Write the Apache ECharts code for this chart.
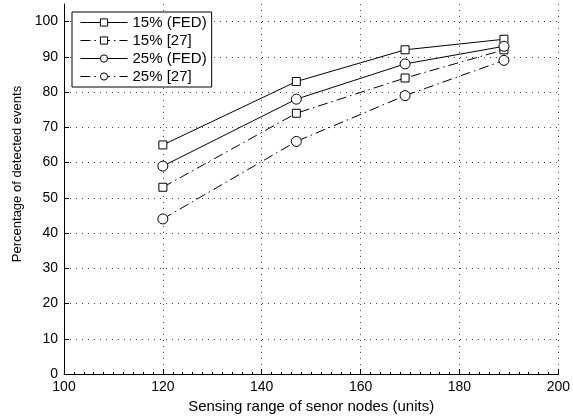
<!DOCTYPE html>
<html>
<head>
<meta charset="utf-8">
<script src="https://cdn.jsdelivr.net/npm/echarts@6/dist/echarts.min.js"></script>
<style>
  html, body { margin: 0; padding: 0; background: #fff; }
  #chart { width: 573px; height: 419px; }
</style>
</head>
<body>
<div id="chart"></div>
<script>
// Sensing range (x) and detection percentage per configuration
const sensingRange = [120, 147, 169, 189];
const fed15 = [65, 83, 92, 95];
const ref15 = [53, 74, 84, 92];
const fed25 = [59, 78, 88, 93];
const ref25 = [44, 66, 79, 89];

const seriesNames = ['15% (FED)', '15% [27]', '25% (FED)', '25% [27]'];
const xTicks = [100, 120, 140, 160, 180, 200];
const yTicks = [0, 10, 20, 30, 40, 50, 60, 70, 80, 90, 100];

const FONT = '"Liberation Sans", Arial, Helvetica, sans-serif';
const DASH_DOT = [10, 4, 1.5, 4];
const GRID_DOTS = [1, 5];

function pairs(xs, ys) {
  return xs.map((x, i) => [x, ys[i]]);
}

function makeSeries(name, values, symbol, size, dashed) {
  return {
    name: name,
    type: 'line',
    data: pairs(sensingRange, values),
    symbol: symbol,
    symbolSize: size,
    showAllSymbol: true,
    animation: false,
    lineStyle: { color: '#000', width: 1, type: dashed ? DASH_DOT : 'solid' },
    itemStyle: { color: '#fff', borderColor: '#000', borderWidth: 1 },
    emphasis: { disabled: true }
  };
}

const chart = echarts.init(document.getElementById('chart'), null, { renderer: 'canvas' });

chart.setOption({
  animation: false,
  backgroundColor: '#fff',
  grid: { left: 64, right: 12, top: 4, bottom: 44 },
  legend: {
    orient: 'vertical',
    left: 72,
    top: 12,
    padding: [3, 5, 3, 8],
    itemGap: 3,
    itemWidth: 47,
    itemHeight: 9,
    borderColor: '#000',
    borderWidth: 1,
    borderRadius: 0,
    backgroundColor: '#fff',
    lineStyle: { width: 1 },
    itemStyle: { borderWidth: 1 },
    textStyle: { color: '#000', fontSize: 15, lineHeight: 15, fontFamily: FONT },
    data: seriesNames
  },
  xAxis: {
    type: 'value',
    min: xTicks[0],
    max: xTicks[xTicks.length - 1],
    interval: 20,
    name: 'Sensing range of senor nodes (units)',
    nameLocation: 'middle',
    nameGap: 25,
    nameTextStyle: { color: '#000', fontSize: 15, fontFamily: FONT },
    axisLine: { lineStyle: { color: '#000', width: 1 } },
    axisTick: { inside: true, length: 5, lineStyle: { color: '#000' } },
    minorTick: { show: true, splitNumber: 10, length: 2, lineStyle: { color: '#000' } },
    axisLabel: { color: '#000', fontSize: 14, fontFamily: FONT, margin: 6 },
    splitLine: { show: true, lineStyle: { color: '#444', width: 1, type: GRID_DOTS } }
  },
  yAxis: {
    type: 'value',
    min: 0,
    max: 105,
    interval: 10,
    name: 'Percentage of detected events',
    nameLocation: 'middle',
    nameGap: 38,
    nameTextStyle: { color: '#000', fontSize: 13, fontFamily: FONT, padding: [0, 0, 0, 30] },
    axisLine: { show: true, lineStyle: { color: '#000', width: 1 } },
    axisTick: { show: true, inside: true, length: 5, customValues: yTicks, lineStyle: { color: '#000' } },
    axisLabel: { color: '#000', fontSize: 14, fontFamily: FONT, margin: 6, customValues: yTicks },
    splitLine: { show: true, customValues: yTicks, lineStyle: { color: '#444', width: 1, type: GRID_DOTS } }
  },
  series: [
    makeSeries(seriesNames[0], fed15, 'rect', 8, false),
    makeSeries(seriesNames[1], ref15, 'rect', 8, true),
    makeSeries(seriesNames[2], fed25, 'circle', 10, false),
    makeSeries(seriesNames[3], ref25, 'circle', 10, true)
  ]
});
</script>
</body>
</html>
